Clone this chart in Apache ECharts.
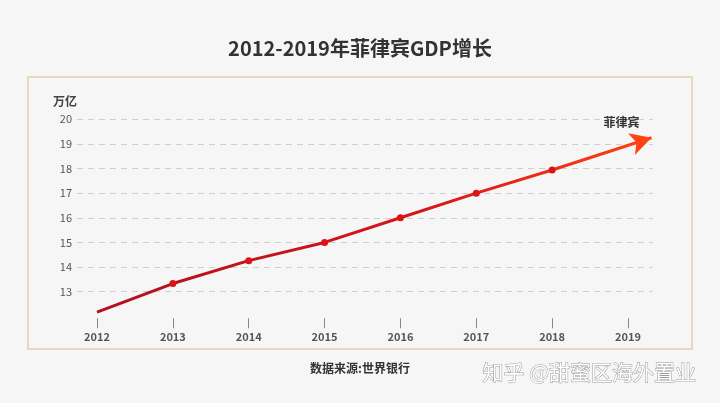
<!DOCTYPE html>
<html>
<head>
<meta charset="utf-8">
<script src="https://cdn.jsdelivr.net/npm/echarts@6/dist/echarts.min.js"></script>
<style>
html,body{margin:0;padding:0;background:#f6f6f6;}
#main{width:720px;height:403px;}
</style>
</head>
<body>
<div id="main"></div>
<script>
// ---- data ----
var titleText = '2012-2019年菲律宾GDP增长';
var sourceText = '数据来源:世界银行';
var unitText = '万亿';
var seriesName = '菲律宾';
var yearTicks = [2012, 2013, 2014, 2015, 2016, 2017, 2018, 2019];
var years = [2012, 2013, 2014, 2015, 2016, 2017, 2018];
var gdp = [12.17, 13.33, 14.26, 15.0, 16.0, 17.0, 17.94];
var arrowPoint = [2019.31, 19.25];

var FONT = '"Noto Sans CJK SC", "Noto Sans", sans-serif';

var lineData = years.map(function (y, i) {
  return {
    value: [y, gdp[i]],
    symbol: i === 0 ? 'none' : 'circle',
    symbolSize: 7,
    itemStyle: { color: '#dc1414' }
  };
});
lineData.push({
  value: arrowPoint,
  symbol: 'arrow',
  symbolSize: [17, 21],
  symbolRotate: -72.3,
  itemStyle: { color: '#ff4412' },
  label: {
    show: true,
    formatter: seriesName,
    position: 'inside',
    offset: [-20, -19],
    color: '#333',
    fontSize: 12,
    fontWeight: 'bold',
    fontFamily: FONT
  }
});

var chart = echarts.init(document.getElementById('main'), null, { renderer: 'canvas' });
chart.setOption({
  backgroundColor: '#f6f6f6',
  animation: false,
  title: {
    text: titleText,
    left: 'center',
    top: 33,
    textStyle: { fontSize: 20, fontWeight: 'bold', color: '#333', fontFamily: FONT }
  },
  graphic: [
    {
      type: 'rect',
      shape: { x: 28, y: 77, width: 664, height: 272 },
      style: { fill: 'none', stroke: '#ead8bd', lineWidth: 2 },
      z: -1
    },
    {
      type: 'text',
      left: 'center',
      top: 362,
      style: { text: sourceText, fill: '#333', font: 'bold 12px ' + FONT }
    },
    {
      type: 'text',
      left: 482,
      top: 361,
      style: {
        text: '知乎 @甜蜜区海外置业',
        fill: '#ffffff',
        font: '21px ' + FONT,
        stroke: '#9a9a9a',
        lineWidth: 1
      }
    }
  ],
  grid: { left: 77, right: 67, top: 119.3, bottom: 86.7, containLabel: false },
  xAxis: {
    type: 'value',
    min: 2011.736,
    max: 2019.33,
    offset: 2,
    axisLine: { show: false },
    splitLine: { show: false },
    axisTick: {
      show: true,
      customValues: yearTicks,
      length: 10,
      lineStyle: { color: '#888', width: 1 }
    },
    axisLabel: {
      customValues: yearTicks,
      formatter: function (v) { return String(Math.round(v)); },
      margin: 13,
      color: '#555',
      fontSize: 11,
      fontWeight: 'bold',
      fontFamily: FONT
    }
  },
  yAxis: {
    type: 'value',
    min: 12,
    max: 20,
    interval: 1,
    name: unitText,
    nameLocation: 'end',
    nameGap: 12,
    nameTextStyle: { color: '#444', fontSize: 12, fontFamily: FONT, align: 'right', fontWeight: 'bold' },
    axisLine: { show: false },
    axisTick: { show: false },
    axisLabel: {
      showMinLabel: false,
      margin: 5,
      color: '#555',
      fontSize: 11,
      fontFamily: FONT
    },
    splitLine: {
      show: true,
      showMinLine: false,
      lineStyle: { color: '#cfcfcf', type: [6, 5], width: 1 }
    }
  },
  series: [{
    name: seriesName,
    type: 'line',
    data: lineData,
    lineStyle: {
      width: 3,
      color: new echarts.graphic.LinearGradient(0, 0, 1, 0, [
        { offset: 0, color: '#b0101f' },
        { offset: 0.6, color: '#d8161a' },
        { offset: 1, color: '#ff4412' }
      ])
    },
    z: 3
  }]
});
</script>
</body>
</html>
